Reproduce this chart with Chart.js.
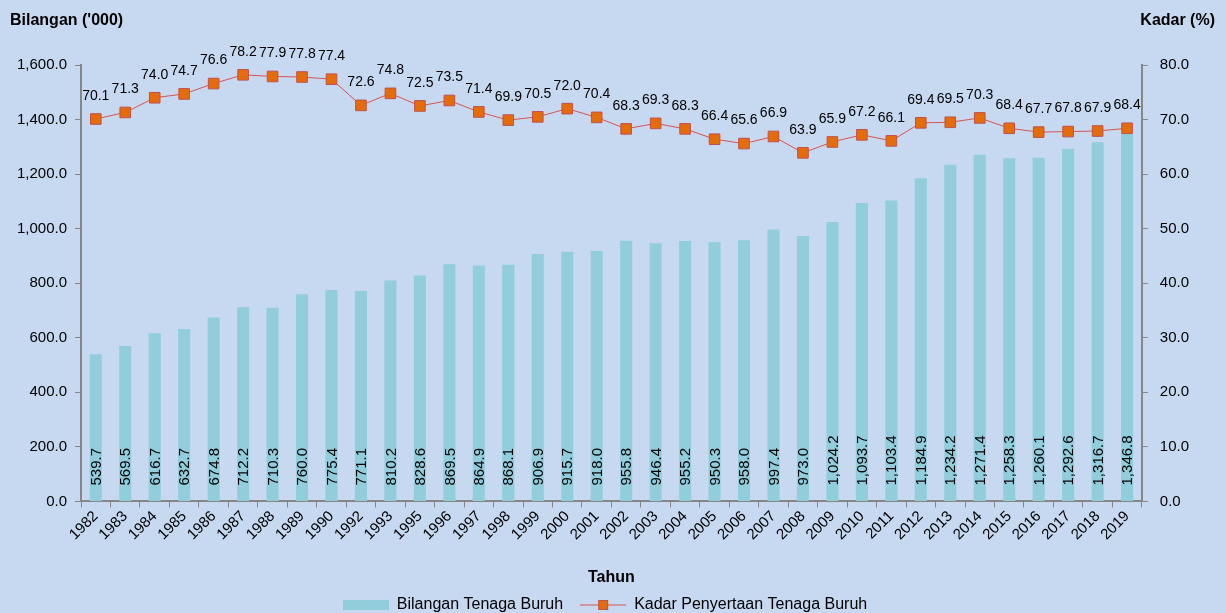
<!DOCTYPE html>
<html>
<head>
<meta charset="utf-8">
<script src="https://cdn.jsdelivr.net/npm/chart.js@4"></script>
<style>
  html, body { margin: 0; padding: 0; background: #c6d9f1; }
  #wrap { width: 1226px; height: 613px; position: relative; }
</style>
</head>
<body>
<div id="wrap"><canvas id="c" width="1226" height="613"></canvas></div>
<script>
const years = ['1982','1983','1984','1985','1986','1987','1988','1989','1990','1992','1993','1995','1996','1997','1998','1999','2000','2001','2002','2003','2004','2005','2006','2007','2008','2009','2010','2011','2012','2013','2014','2015','2016','2017','2018','2019'];
const labourForce = [539.7,569.5,616.7,632.7,674.8,712.2,710.3,760.0,775.4,771.1,810.2,828.6,869.5,864.9,868.1,906.9,915.7,918.0,955.8,946.4,955.2,950.3,958.0,997.4,973.0,1024.2,1093.7,1103.4,1184.9,1234.2,1271.4,1258.3,1260.1,1292.6,1316.7,1346.8];
const participationRate = [70.1,71.3,74.0,74.7,76.6,78.2,77.9,77.8,77.4,72.6,74.8,72.5,73.5,71.4,69.9,70.5,72.0,70.4,68.3,69.3,68.3,66.4,65.6,66.9,63.9,65.9,67.2,66.1,69.4,69.5,70.3,68.4,67.7,67.8,67.9,68.4];
const leftTitle = "Bilangan ('000)";
const rightTitle = "Kadar (%)";
const xTitle = "Tahun";
const barName = "Bilangan Tenaga Buruh";
const lineName = "Kadar Penyertaan Tenaga Buruh";

const FONT = "'Liberation Sans', Arial, sans-serif";
const BAR_COLOR = '#92cddc';
const LINE_COLOR = '#d9534f';
const MARK_FILL = '#e46c0a';
const MARK_BORDER = '#c0504d';
const AXIS_COLOR = '#868686';

function fmt(v, d) {
  return v.toLocaleString('en-US', {minimumFractionDigits: d, maximumFractionDigits: d});
}

function barSwatch() {
  const c = document.createElement('canvas'); c.width = 46; c.height = 10;
  const x = c.getContext('2d'); x.fillStyle = BAR_COLOR; x.fillRect(0, 0, 46, 10); return c;
}
function lineSwatch() {
  const c = document.createElement('canvas'); c.width = 46; c.height = 12;
  const x = c.getContext('2d');
  x.strokeStyle = LINE_COLOR; x.lineWidth = 1.2; x.beginPath(); x.moveTo(0, 6); x.lineTo(46, 6); x.stroke();
  x.fillStyle = MARK_FILL; x.fillRect(18, 1, 10, 10);
  x.strokeStyle = MARK_BORDER; x.lineWidth = 1; x.strokeRect(18.5, 1.5, 9, 9);
  return c;
}

const labelPlugin = {
  id: 'labels',
  afterDatasetsDraw(chart) {
    const ctx = chart.ctx;
    ctx.save();
    ctx.fillStyle = '#000';
    ctx.font = '15px ' + FONT;
    const barMeta = chart.getDatasetMeta(0);
    const base = chart.scales.y.getPixelForValue(0);
    barMeta.data.forEach((el, i) => {
      ctx.save();
      ctx.translate(el.x + 1, base - 16);
      ctx.rotate(-Math.PI / 2);
      ctx.textAlign = 'left';
      ctx.textBaseline = 'middle';
      ctx.fillText(fmt(labourForce[i], 1), 0, 0);
      ctx.restore();
    });
    ctx.font = '14px ' + FONT;
    const lineMeta = chart.getDatasetMeta(1);
    lineMeta.data.forEach((el, i) => {
      ctx.textAlign = 'center';
      ctx.textBaseline = 'middle';
      ctx.fillText(fmt(participationRate[i], 1), el.x, el.y - 23);
    });
    ctx.font = 'bold 16px ' + FONT;
    ctx.textBaseline = 'middle';
    ctx.textAlign = 'left';
    ctx.fillText(leftTitle, 10, 21);
    ctx.textAlign = 'right';
    ctx.fillText(rightTitle, 1215, 21);
    ctx.restore();
  }
};

new Chart(document.getElementById('c'), {
  data: {
    labels: years,
    datasets: [
      {
        type: 'bar',
        label: barName,
        data: labourForce,
        backgroundColor: BAR_COLOR,
        borderWidth: 0,
        yAxisID: 'y',
        barPercentage: 0.82,
        categoryPercentage: 0.5,
        order: 2
      },
      {
        type: 'line',
        label: lineName,
        data: participationRate,
        borderColor: LINE_COLOR,
        borderWidth: 1,
        pointStyle: 'rect',
        pointRadius: 7.5,
        pointBackgroundColor: MARK_FILL,
        pointBorderColor: MARK_BORDER,
        pointBorderWidth: 1,
        yAxisID: 'y1',
        tension: 0,
        order: 1
      }
    ]
  },
  options: {
    responsive: false,
    animation: false,
    devicePixelRatio: 1,
    layout: { padding: { top: 65, left: 9, right: 25, bottom: -10 } },
    scales: {
      x: {
        offset: true,
        grid: { display: true, drawOnChartArea: false, drawTicks: true, tickLength: 6, color: AXIS_COLOR, offset: true },
        border: { color: AXIS_COLOR, width: 2 },
        ticks: { color: '#000', font: { family: FONT, size: 15 }, minRotation: 45, maxRotation: 45, autoSkip: false, padding: 0 },
        title: { display: true, text: xTitle, color: '#000', font: { family: FONT, size: 16, weight: 'bold' }, padding: { top: 24, bottom: -7 } }
      },
      y: {
        position: 'left',
        min: 0, max: 1600,
        grid: { display: true, drawOnChartArea: false, drawTicks: true, tickLength: 6, color: AXIS_COLOR },
        border: { color: AXIS_COLOR, width: 2 },
        ticks: { stepSize: 200, color: '#000', font: { family: FONT, size: 15 }, padding: 8, callback: v => fmt(v, 1) }
      },
      y1: {
        position: 'right',
        min: 0, max: 80,
        grid: { display: true, drawOnChartArea: false, drawTicks: true, tickLength: 6, color: AXIS_COLOR },
        border: { color: AXIS_COLOR, width: 2 },
        ticks: { stepSize: 10, color: '#000', font: { family: FONT, size: 15 }, padding: 12, callback: v => fmt(v, 1) }
      }
    },
    plugins: {
      tooltip: { enabled: false },
      legend: {
        position: 'bottom',
        labels: {
          color: '#000',
          font: { family: FONT, size: 16 },
          usePointStyle: true,
          pointStyleWidth: 46,
          boxHeight: 12,
          padding: 17,
          generateLabels: (chart) => [
            { text: barName, pointStyle: barSwatch(), fillStyle: BAR_COLOR, strokeStyle: BAR_COLOR, lineWidth: 0, datasetIndex: 0, fontColor: '#000' },
            { text: lineName, pointStyle: lineSwatch(), fillStyle: MARK_FILL, strokeStyle: LINE_COLOR, lineWidth: 0, datasetIndex: 1, fontColor: '#000' }
          ]
        }
      }
    }
  },
  plugins: [labelPlugin]
});
</script>
</body>
</html>
